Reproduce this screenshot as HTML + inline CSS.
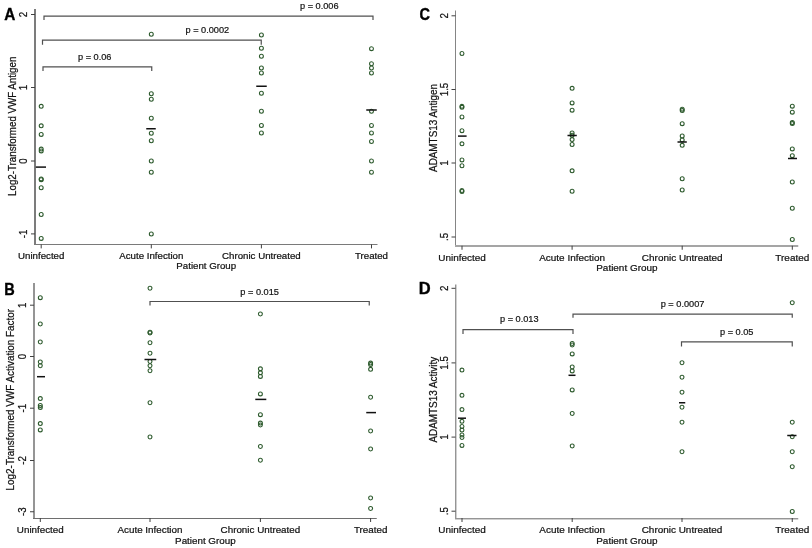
<!DOCTYPE html>
<html><head><meta charset="utf-8"><style>
html,body{margin:0;padding:0;background:#fff;}
svg{display:block;will-change:transform;}
text{font-family:"Liberation Sans",sans-serif;fill:#111;stroke:#111;stroke-width:0.22px;}
.t{font-size:9.7px;}
.yt{font-size:9.9px;}
.p{font-size:9.2px;stroke-width:0.2px;}
.lb{font-size:16.5px;font-weight:bold;fill:#000;stroke:#000;stroke-width:0.35px;}
circle{fill:none;stroke:#2d5a2d;stroke-width:1.1;}
</style></head><body>
<svg width="812" height="548" viewBox="0 0 812 548">
<rect width="812" height="548" fill="#fff"/>
<g>
<rect x="34" y="9" width="2" height="236" fill="#7c7c7c"/>
<rect x="34" y="244" width="343.5" height="1" fill="#7a7a7a"/>
<path d="M31 14.5H35" stroke="#404040" stroke-width="1"/>
<text transform="translate(27.10 14.50) rotate(-90) scale(1 1.06)" text-anchor="middle" class="t">2</text>
<path d="M31 87.5H35" stroke="#404040" stroke-width="1"/>
<text transform="translate(27.10 87.50) rotate(-90) scale(1 1.06)" text-anchor="middle" class="t">1</text>
<path d="M31 161.0H35" stroke="#404040" stroke-width="1"/>
<text transform="translate(27.10 161.00) rotate(-90) scale(1 1.06)" text-anchor="middle" class="t">0</text>
<path d="M31 233.9H35" stroke="#404040" stroke-width="1"/>
<text transform="translate(27.10 233.90) rotate(-90) scale(1 1.06)" text-anchor="middle" class="t">-1</text>
<path d="M41.2 244.4V248.4" stroke="#404040" stroke-width="1"/>
<text transform="translate(41.20 259.10)" text-anchor="middle" class="t" style="font-size:9.7px">Uninfected</text>
<path d="M151.3 244.4V248.4" stroke="#404040" stroke-width="1"/>
<text transform="translate(151.30 259.10)" text-anchor="middle" class="t" style="font-size:9.7px">Acute Infection</text>
<path d="M261.4 244.4V248.4" stroke="#404040" stroke-width="1"/>
<text transform="translate(261.40 259.10)" text-anchor="middle" class="t" style="font-size:9.7px">Chronic Untreated</text>
<path d="M371.5 244.4V248.4" stroke="#404040" stroke-width="1"/>
<text transform="translate(371.50 259.10)" text-anchor="middle" class="t" style="font-size:9.7px">Treated</text>
<text transform="translate(206.25 269.30)" text-anchor="middle" class="t" style="font-size:9.7px">Patient Group</text>
<text transform="translate(15.70 126.30) rotate(-90) scale(0.985 1.06)" text-anchor="middle" class="yt">Log2-Transformed VWF Antigen</text>
<text transform="translate(4.20 19.70) scale(0.93 1)" class="lb">A</text>
<path d="M44 20V16.1H373V20" fill="none" stroke="#505050" stroke-width="1.2"/>
<text transform="translate(300.00 8.75) scale(1 1.04)" class="p">p = 0.006</text>
<path d="M42.5 44.7V40.1H261.25V44.7" fill="none" stroke="#505050" stroke-width="1.2"/>
<text transform="translate(185.50 32.80) scale(1 1.04)" class="p">p = 0.0002</text>
<path d="M43 71V66.8H151.75V71" fill="none" stroke="#505050" stroke-width="1.2"/>
<text transform="translate(78.00 60.10) scale(1 1.04)" class="p">p = 0.06</text>
<circle cx="41.2" cy="106.3" r="1.95"/>
<circle cx="41.2" cy="125.8" r="1.95"/>
<circle cx="41.2" cy="134.4" r="1.95"/>
<circle cx="41.2" cy="149.1" r="1.95"/>
<circle cx="41.2" cy="150.9" r="1.95"/>
<circle cx="41.2" cy="178.9" r="1.95"/>
<circle cx="41.2" cy="179.7" r="1.95"/>
<circle cx="41.2" cy="187.75" r="1.95"/>
<circle cx="41.2" cy="214.5" r="1.95"/>
<circle cx="41.2" cy="238.4" r="1.95"/>
<circle cx="151.3" cy="34.25" r="1.95"/>
<circle cx="151.3" cy="93.75" r="1.95"/>
<circle cx="151.3" cy="99.25" r="1.95"/>
<circle cx="151.3" cy="118.25" r="1.95"/>
<circle cx="151.3" cy="133.25" r="1.95"/>
<circle cx="151.3" cy="140.75" r="1.95"/>
<circle cx="151.3" cy="161" r="1.95"/>
<circle cx="151.3" cy="172.25" r="1.95"/>
<circle cx="151.3" cy="234" r="1.95"/>
<circle cx="261.4" cy="35" r="1.95"/>
<circle cx="261.4" cy="48.25" r="1.95"/>
<circle cx="261.4" cy="56.25" r="1.95"/>
<circle cx="261.4" cy="68" r="1.95"/>
<circle cx="261.4" cy="73" r="1.95"/>
<circle cx="261.4" cy="93.25" r="1.95"/>
<circle cx="261.4" cy="111.25" r="1.95"/>
<circle cx="261.4" cy="125.5" r="1.95"/>
<circle cx="261.4" cy="133" r="1.95"/>
<circle cx="371.5" cy="48.65" r="1.95"/>
<circle cx="371.5" cy="63.75" r="1.95"/>
<circle cx="371.5" cy="68" r="1.95"/>
<circle cx="371.5" cy="73" r="1.95"/>
<circle cx="371.5" cy="111.25" r="1.95"/>
<circle cx="371.5" cy="125.5" r="1.95"/>
<circle cx="371.5" cy="133" r="1.95"/>
<circle cx="371.5" cy="141.5" r="1.95"/>
<circle cx="371.5" cy="161" r="1.95"/>
<circle cx="371.5" cy="172.25" r="1.95"/>
<path d="M35.8 167.1H46" stroke="#111" stroke-width="1.5"/>
<path d="M146.25 128.75H155.75" stroke="#111" stroke-width="1.5"/>
<path d="M256.25 86.25H266.75" stroke="#111" stroke-width="1.5"/>
<path d="M366.25 110H376.75" stroke="#111" stroke-width="1.5"/>
</g>
<g>
<rect x="33" y="283" width="2" height="236" fill="#959595"/>
<rect x="33" y="518" width="343.75" height="1" fill="#6e6e6e"/>
<path d="M30 305.2H34" stroke="#404040" stroke-width="1"/>
<text transform="translate(26.10 305.20) rotate(-90) scale(1 1.06)" text-anchor="middle" class="t">1</text>
<path d="M30 356.5H34" stroke="#404040" stroke-width="1"/>
<text transform="translate(26.10 356.50) rotate(-90) scale(1 1.06)" text-anchor="middle" class="t">0</text>
<path d="M30 408.2H34" stroke="#404040" stroke-width="1"/>
<text transform="translate(26.10 408.20) rotate(-90) scale(1 1.06)" text-anchor="middle" class="t">-1</text>
<path d="M30 460.5H34" stroke="#404040" stroke-width="1"/>
<text transform="translate(26.10 460.50) rotate(-90) scale(1 1.06)" text-anchor="middle" class="t">-2</text>
<path d="M30 511.75H34" stroke="#404040" stroke-width="1"/>
<text transform="translate(26.10 511.75) rotate(-90) scale(1 1.06)" text-anchor="middle" class="t">-3</text>
<path d="M40.3 518V522" stroke="#404040" stroke-width="1"/>
<text transform="translate(40.30 533.05)" text-anchor="middle" class="t" style="font-size:9.82px">Uninfected</text>
<path d="M150 518V522" stroke="#404040" stroke-width="1"/>
<text transform="translate(150.00 533.05)" text-anchor="middle" class="t" style="font-size:9.82px">Acute Infection</text>
<path d="M260.4 518V522" stroke="#404040" stroke-width="1"/>
<text transform="translate(260.40 533.05)" text-anchor="middle" class="t" style="font-size:9.82px">Chronic Untreated</text>
<path d="M370.6 518V522" stroke="#404040" stroke-width="1"/>
<text transform="translate(370.60 533.05)" text-anchor="middle" class="t" style="font-size:9.82px">Treated</text>
<text transform="translate(205.38 543.65)" text-anchor="middle" class="t" style="font-size:9.82px">Patient Group</text>
<text transform="translate(14.10 399.65) rotate(-90) scale(1 1.06)" text-anchor="middle" class="yt">Log2-Transformed VWF Activation Factor</text>
<text transform="translate(4.30 295.00) scale(0.88 1)" class="lb">B</text>
<path d="M150 305.5V301.5H369.25V305.5" fill="none" stroke="#505050" stroke-width="1.2"/>
<text transform="translate(240.30 295.10) scale(1 1.04)" class="p">p = 0.015</text>
<circle cx="40.3" cy="297.7" r="1.95"/>
<circle cx="40.3" cy="324" r="1.95"/>
<circle cx="40.3" cy="342" r="1.95"/>
<circle cx="40.3" cy="362" r="1.95"/>
<circle cx="40.3" cy="365.75" r="1.95"/>
<circle cx="40.3" cy="398.6" r="1.95"/>
<circle cx="40.3" cy="405.4" r="1.95"/>
<circle cx="40.3" cy="407.4" r="1.95"/>
<circle cx="40.3" cy="423.6" r="1.95"/>
<circle cx="40.3" cy="429.9" r="1.95"/>
<circle cx="150" cy="288.25" r="1.95"/>
<circle cx="150" cy="332.2" r="1.95"/>
<circle cx="150" cy="333.0" r="1.95"/>
<circle cx="150" cy="342.75" r="1.95"/>
<circle cx="150" cy="353.25" r="1.95"/>
<circle cx="150" cy="361.5" r="1.95"/>
<circle cx="150" cy="365.75" r="1.95"/>
<circle cx="150" cy="370.75" r="1.95"/>
<circle cx="150" cy="402.75" r="1.95"/>
<circle cx="150" cy="437" r="1.95"/>
<circle cx="260.4" cy="314" r="1.95"/>
<circle cx="260.4" cy="368.8" r="1.95"/>
<circle cx="260.4" cy="372.8" r="1.95"/>
<circle cx="260.4" cy="376.4" r="1.95"/>
<circle cx="260.4" cy="393.9" r="1.95"/>
<circle cx="260.4" cy="414.7" r="1.95"/>
<circle cx="260.4" cy="423.1" r="1.95"/>
<circle cx="260.4" cy="425" r="1.95"/>
<circle cx="260.4" cy="446.5" r="1.95"/>
<circle cx="260.4" cy="460.25" r="1.95"/>
<circle cx="370.6" cy="363.1" r="1.95"/>
<circle cx="370.6" cy="364.6" r="1.95"/>
<circle cx="370.6" cy="369.3" r="1.95"/>
<circle cx="370.6" cy="397.25" r="1.95"/>
<circle cx="370.6" cy="431" r="1.95"/>
<circle cx="370.6" cy="449" r="1.95"/>
<circle cx="370.6" cy="498" r="1.95"/>
<circle cx="370.6" cy="508.5" r="1.95"/>
<path d="M37 376.7H45" stroke="#111" stroke-width="1.5"/>
<path d="M144.5 359.5H156.25" stroke="#111" stroke-width="1.5"/>
<path d="M255.3 399.4H266.3" stroke="#111" stroke-width="1.5"/>
<path d="M366.25 412.6H376" stroke="#111" stroke-width="1.5"/>
</g>
<g>
<rect x="455" y="10.5" width="1" height="236.5" fill="#858585"/>
<rect x="455" y="245" width="343.25" height="2" fill="#a5a5a5"/>
<path d="M451.5 15.8H455.5" stroke="#404040" stroke-width="1"/>
<text transform="translate(447.60 15.80) rotate(-90) scale(1 1.06)" text-anchor="middle" class="t">2</text>
<path d="M451.5 89.5H455.5" stroke="#404040" stroke-width="1"/>
<text transform="translate(447.60 89.50) rotate(-90) scale(1 1.06)" text-anchor="middle" class="t">1.5</text>
<path d="M451.5 163H455.5" stroke="#404040" stroke-width="1"/>
<text transform="translate(447.60 163.00) rotate(-90) scale(1 1.06)" text-anchor="middle" class="t">1</text>
<path d="M451.5 237H455.5" stroke="#404040" stroke-width="1"/>
<text transform="translate(447.60 237.00) rotate(-90) scale(1 1.06)" text-anchor="middle" class="t">.5</text>
<path d="M462 245.75V249.75" stroke="#404040" stroke-width="1"/>
<text transform="translate(462.00 260.95)" text-anchor="middle" class="t" style="font-size:9.95px">Uninfected</text>
<path d="M572.1 245.75V249.75" stroke="#404040" stroke-width="1"/>
<text transform="translate(572.10 260.95)" text-anchor="middle" class="t" style="font-size:9.95px">Acute Infection</text>
<path d="M682.2 245.75V249.75" stroke="#404040" stroke-width="1"/>
<text transform="translate(682.20 260.95)" text-anchor="middle" class="t" style="font-size:9.95px">Chronic Untreated</text>
<path d="M792.3 245.75V249.75" stroke="#404040" stroke-width="1"/>
<text transform="translate(792.30 260.95)" text-anchor="middle" class="t" style="font-size:9.95px">Treated</text>
<text transform="translate(626.88 270.95)" text-anchor="middle" class="t" style="font-size:9.95px">Patient Group</text>
<text transform="translate(436.90 128.00) rotate(-90) scale(1 1.06)" text-anchor="middle" class="yt">ADAMTS13 Antigen</text>
<text transform="translate(419.50 19.80) scale(0.88 1)" class="lb">C</text>
<circle cx="462" cy="53.5" r="1.95"/>
<circle cx="462" cy="106.3" r="1.95"/>
<circle cx="462" cy="107.3" r="1.95"/>
<circle cx="462" cy="117" r="1.95"/>
<circle cx="462" cy="130.7" r="1.95"/>
<circle cx="462" cy="143.8" r="1.95"/>
<circle cx="462" cy="159.9" r="1.95"/>
<circle cx="462" cy="165.75" r="1.95"/>
<circle cx="462" cy="190.5" r="1.95"/>
<circle cx="462" cy="191.5" r="1.95"/>
<circle cx="572.1" cy="88.3" r="1.95"/>
<circle cx="572.1" cy="102.9" r="1.95"/>
<circle cx="572.1" cy="110.2" r="1.95"/>
<circle cx="572.1" cy="133" r="1.95"/>
<circle cx="572.1" cy="135.2" r="1.95"/>
<circle cx="572.1" cy="139.6" r="1.95"/>
<circle cx="572.1" cy="144.5" r="1.95"/>
<circle cx="572.1" cy="170.8" r="1.95"/>
<circle cx="572.1" cy="191.25" r="1.95"/>
<circle cx="682.2" cy="109.2" r="1.95"/>
<circle cx="682.2" cy="110.6" r="1.95"/>
<circle cx="682.2" cy="123.7" r="1.95"/>
<circle cx="682.2" cy="136" r="1.95"/>
<circle cx="682.2" cy="139.9" r="1.95"/>
<circle cx="682.2" cy="145.3" r="1.95"/>
<circle cx="682.2" cy="178.75" r="1.95"/>
<circle cx="682.2" cy="190" r="1.95"/>
<circle cx="792.3" cy="106.2" r="1.95"/>
<circle cx="792.3" cy="112.2" r="1.95"/>
<circle cx="792.3" cy="122.5" r="1.95"/>
<circle cx="792.3" cy="123.6" r="1.95"/>
<circle cx="792.3" cy="148.9" r="1.95"/>
<circle cx="792.3" cy="155.7" r="1.95"/>
<circle cx="792.3" cy="182" r="1.95"/>
<circle cx="792.3" cy="208.25" r="1.95"/>
<circle cx="792.3" cy="239.5" r="1.95"/>
<path d="M458 136.1H466.6" stroke="#111" stroke-width="1.5"/>
<path d="M567.5 135.5H576.8" stroke="#111" stroke-width="1.5"/>
<path d="M677.5 142H686.8" stroke="#111" stroke-width="1.5"/>
<path d="M788 158.5H797" stroke="#111" stroke-width="1.5"/>
</g>
<g>
<rect x="455" y="284.5" width="1" height="234.5" fill="#959595"/>
<rect x="456" y="284.5" width="1" height="234.5" fill="#d0d0d0"/>
<rect x="455" y="518" width="343.25" height="1" fill="#959595"/>
<rect x="455" y="519" width="343.25" height="1" fill="#d0d0d0"/>
<path d="M451.5 288.3H455.5" stroke="#404040" stroke-width="1"/>
<text transform="translate(447.60 288.30) rotate(-90) scale(1 1.06)" text-anchor="middle" class="t">2</text>
<path d="M451.5 362.9H455.5" stroke="#404040" stroke-width="1"/>
<text transform="translate(447.60 362.90) rotate(-90) scale(1 1.06)" text-anchor="middle" class="t">1.5</text>
<path d="M451.5 437.1H455.5" stroke="#404040" stroke-width="1"/>
<text transform="translate(447.60 437.10) rotate(-90) scale(1 1.06)" text-anchor="middle" class="t">1</text>
<path d="M451.5 511.2H455.5" stroke="#404040" stroke-width="1"/>
<text transform="translate(447.60 511.20) rotate(-90) scale(1 1.06)" text-anchor="middle" class="t">.5</text>
<path d="M462 518V522" stroke="#404040" stroke-width="1"/>
<text transform="translate(462.00 533.05)" text-anchor="middle" class="t" style="font-size:9.95px">Uninfected</text>
<path d="M572.2 518V522" stroke="#404040" stroke-width="1"/>
<text transform="translate(572.20 533.05)" text-anchor="middle" class="t" style="font-size:9.95px">Acute Infection</text>
<path d="M682 518V522" stroke="#404040" stroke-width="1"/>
<text transform="translate(682.00 533.05)" text-anchor="middle" class="t" style="font-size:9.95px">Chronic Untreated</text>
<path d="M792.25 518V522" stroke="#404040" stroke-width="1"/>
<text transform="translate(792.25 533.05)" text-anchor="middle" class="t" style="font-size:9.95px">Treated</text>
<text transform="translate(626.88 543.65)" text-anchor="middle" class="t" style="font-size:9.95px">Patient Group</text>
<text transform="translate(436.90 399.65) rotate(-90) scale(1 1.06)" text-anchor="middle" class="yt">ADAMTS13 Activity</text>
<text transform="translate(418.85 293.90)" class="lb">D</text>
<path d="M463 334V329.7H573V334" fill="none" stroke="#505050" stroke-width="1.2"/>
<text transform="translate(500.00 322.40) scale(1 1.04)" class="p">p = 0.013</text>
<path d="M573 317.75V314.1H792.25V317.75" fill="none" stroke="#505050" stroke-width="1.2"/>
<text transform="translate(660.70 306.50) scale(1 1.04)" class="p">p = 0.0007</text>
<path d="M681.5 346.5V341.8H792.25V346.5" fill="none" stroke="#505050" stroke-width="1.2"/>
<text transform="translate(720.00 334.95) scale(1 1.04)" class="p">p = 0.05</text>
<circle cx="462" cy="370.1" r="1.95"/>
<circle cx="462" cy="395.3" r="1.95"/>
<circle cx="462" cy="409.6" r="1.95"/>
<circle cx="462" cy="421.3" r="1.95"/>
<circle cx="462" cy="426.5" r="1.95"/>
<circle cx="462" cy="430.1" r="1.95"/>
<circle cx="462" cy="435" r="1.95"/>
<circle cx="462" cy="437.5" r="1.95"/>
<circle cx="462" cy="445.4" r="1.95"/>
<circle cx="572.2" cy="343.5" r="1.95"/>
<circle cx="572.2" cy="345" r="1.95"/>
<circle cx="572.2" cy="353.9" r="1.95"/>
<circle cx="572.2" cy="367" r="1.95"/>
<circle cx="572.2" cy="370.9" r="1.95"/>
<circle cx="572.2" cy="389.9" r="1.95"/>
<circle cx="572.2" cy="413.5" r="1.95"/>
<circle cx="572.2" cy="446" r="1.95"/>
<circle cx="682" cy="362.75" r="1.95"/>
<circle cx="682" cy="377.25" r="1.95"/>
<circle cx="682" cy="392.25" r="1.95"/>
<circle cx="682" cy="407.25" r="1.95"/>
<circle cx="682" cy="422.25" r="1.95"/>
<circle cx="682" cy="451.75" r="1.95"/>
<circle cx="792.25" cy="302.75" r="1.95"/>
<circle cx="792.25" cy="422.25" r="1.95"/>
<circle cx="792.25" cy="436.75" r="1.95"/>
<circle cx="792.25" cy="451.75" r="1.95"/>
<circle cx="792.25" cy="466.75" r="1.95"/>
<circle cx="792.25" cy="511.5" r="1.95"/>
<path d="M458 418.2H466" stroke="#111" stroke-width="1.5"/>
<path d="M568.5 375.3H575.5" stroke="#111" stroke-width="1.5"/>
<path d="M679 402.75H685.25" stroke="#111" stroke-width="1.5"/>
<path d="M787.25 435.5H796.5" stroke="#111" stroke-width="1.5"/>
</g>
</svg>
</body></html>
